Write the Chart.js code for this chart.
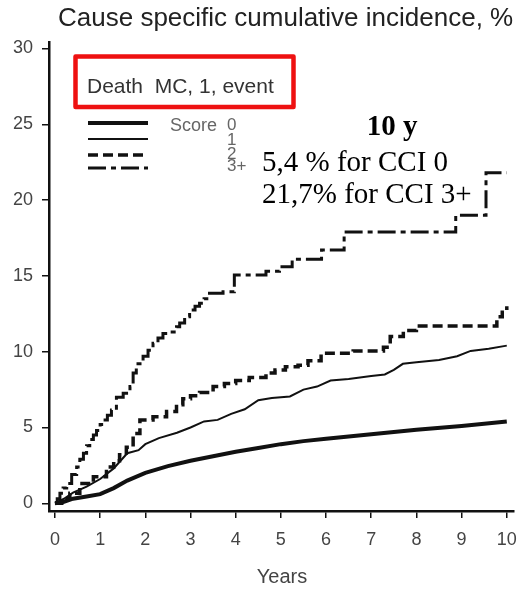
<!DOCTYPE html>
<html>
<head>
<meta charset="utf-8">
<script src="https://cdn.jsdelivr.net/npm/chart.js@4.4.1/dist/chart.umd.min.js"></script>
<style>
  html, body { margin: 0; padding: 0; background: #fff; }
  #wrap { width: 528px; height: 589px; position: relative; }
</style>
</head>
<body>
<div id="wrap"><canvas id="chart"></canvas></div>
<script>
const chartTitle = 'Cause specific cumulative incidence, %';
const boxLabel = 'Death  MC, 1, event';
const xTitle = 'Years';
const xTicks = [0, 1, 2, 3, 4, 5, 6, 7, 8, 9, 10];
const yTicks = [0, 5, 10, 15, 20, 25, 30];
const scoreLabels = ['0', '1', '2', '3+'];
const noteHead = '10 y';
const noteLines = ['5,4 % for CCI 0', '21,7% for CCI 3+'];

// score 0 (thick solid)
const score0Years = [0, 0.2, 0.4, 0.7, 1.0, 1.3, 1.6, 2.0, 2.5, 3.0, 3.5, 4.0, 4.5, 5.0, 5.5, 6.0, 7.0, 8.0, 9.0, 10.0];
const score0Pct   = [0, 0.1, 0.3, 0.45, 0.6, 1.0, 1.5, 2.0, 2.45, 2.8, 3.1, 3.4, 3.65, 3.9, 4.1, 4.25, 4.55, 4.85, 5.1, 5.4];

// score 1 (thin solid)
const score1Years = [0, 0.2, 0.4, 0.7, 1.0, 1.3, 1.6, 1.85, 2.0, 2.3, 2.7, 3.0, 3.3, 3.6, 3.9, 4.2, 4.5, 4.8, 5.2, 5.5, 5.8, 6.1, 6.5, 7.0, 7.3, 7.5, 7.7, 8.0, 8.5, 8.9, 9.2, 9.6, 10.0];
const score1Pct   = [0, 0.3, 0.7, 1.1, 1.6, 2.3, 3.3, 3.5, 3.9, 4.3, 4.65, 5.0, 5.4, 5.5, 5.9, 6.2, 6.8, 6.95, 7.05, 7.5, 7.7, 8.1, 8.2, 8.4, 8.5, 8.8, 9.2, 9.3, 9.45, 9.7, 10.05, 10.2, 10.4];

// score 2 (dashed, step)
const score2Years = [0, 0.15, 0.33, 0.55, 0.85, 1.14, 1.3, 1.43, 1.58, 1.73, 1.88, 2.17, 2.47, 2.69, 2.83, 3.0, 3.2, 3.5, 3.75, 4.0, 4.3, 4.67, 4.87, 5.1, 5.38, 5.6, 5.89, 6.6, 7.27, 7.42, 7.71, 8.0, 9.78, 9.9, 10.0];
const score2Pct   = [0, 0.3, 0.66, 1.3, 1.75, 2.4, 2.8, 3.2, 3.7, 4.6, 5.5, 5.7, 6.05, 6.5, 6.9, 7.1, 7.3, 7.7, 7.9, 8.1, 8.3, 8.6, 8.8, 9.0, 9.1, 9.4, 9.9, 10.05, 10.3, 11.0, 11.4, 11.7, 12.3, 12.6, 13.0];

// score 3+ (dash-dot, step)
const score3Years = [0, 0.05, 0.11, 0.18, 0.26, 0.37, 0.48, 0.55, 0.63, 0.7, 0.77, 0.85, 0.92, 1.0, 1.07, 1.16, 1.25, 1.36, 1.51, 1.66, 1.73, 1.8, 1.95, 2.06, 2.17, 2.28, 2.39, 2.54, 2.69, 2.76, 2.87, 2.98, 3.1, 3.2, 3.3, 3.42, 3.72, 3.97, 4.67, 4.97, 5.25, 5.9, 6.4, 8.87, 9.54, 10.0];
const score3Pct   = [0, 0.3, 0.66, 1.0, 1.3, 1.9, 2.4, 2.9, 3.3, 3.8, 4.2, 4.5, 4.8, 5.2, 5.5, 5.8, 6.15, 7.0, 7.25, 7.7, 8.6, 9.2, 9.7, 10.1, 10.55, 10.9, 11.2, 11.3, 11.65, 11.9, 12.3, 12.75, 13.0, 13.2, 13.5, 13.85, 13.95, 15.06, 15.3, 15.6, 16.1, 16.7, 17.9, 19.0, 21.8, 21.8];

const toPoints = (xs, ys) => xs.map((x, i) => ({ x: x, y: ys[i] }));

const sans = '"Liberation Sans", Arial, Helvetica, sans-serif';
const serif = '"Liberation Serif", "Times New Roman", serif';

const datasets = [
  { label: 'Score 0', data: toPoints(score0Years, score0Pct), borderWidth: 4, borderDash: [] },
  { label: 'Score 1', data: toPoints(score1Years, score1Pct), borderWidth: 2, borderDash: [] },
  { label: 'Score 2', data: toPoints(score2Years, score2Pct), borderWidth: 3.5, borderDash: [10, 5], stepped: 'before' },
  { label: 'Score 3+', data: toPoints(score3Years, score3Pct), borderWidth: 3, borderDash: [18, 5, 5, 5], stepped: 'before' }
].map(d => Object.assign({
  borderColor: '#111',
  backgroundColor: '#111',
  pointRadius: 0,
  fill: false,
  tension: 0
}, d));

const overlay = {
  id: 'overlay',
  afterDraw(chart) {
    const ctx = chart.ctx;
    ctx.save();
    ctx.textBaseline = 'alphabetic';

    // title
    ctx.fillStyle = '#222';
    ctx.font = '26px ' + sans;
    ctx.textAlign = 'left';
    ctx.fillText(chartTitle, 58, 26);

    // x axis title
    ctx.font = '20px ' + sans;
    ctx.fillStyle = '#444';
    ctx.textAlign = 'center';
    ctx.fillText(xTitle, 282, 583);

    // red box with label
    ctx.strokeStyle = '#ee1111';
    ctx.lineWidth = 4.5;
    ctx.lineJoin = 'round';
    ctx.strokeRect(75.5, 56.5, 218, 50.5);
    ctx.fillStyle = '#333';
    ctx.font = '21px ' + sans;
    ctx.textAlign = 'left';
    ctx.fillText(boxLabel, 87, 93);

    // legend lines
    const ly = [123, 139, 155, 168];
    chart.data.datasets.forEach((ds, i) => {
      ctx.beginPath();
      ctx.setLineDash(ds.borderDash);
      ctx.lineWidth = ds.borderWidth;
      ctx.strokeStyle = ds.borderColor;
      ctx.lineCap = 'butt';
      ctx.moveTo(88, ly[i]);
      ctx.lineTo(148, ly[i]);
      ctx.stroke();
    });
    ctx.setLineDash([]);
    ctx.fillStyle = '#666';
    ctx.font = '18px ' + sans;
    ctx.fillText('Score', 170, 131);
    const nb = [130, 145, 159, 171];
    ctx.font = '17px ' + sans;
    scoreLabels.forEach((s, i) => ctx.fillText(s, 227, nb[i]));

    // 10-year note
    ctx.fillStyle = '#000';
    ctx.font = 'bold 29px ' + serif;
    ctx.textAlign = 'center';
    ctx.fillText(noteHead, 392, 135);
    ctx.font = '29px ' + serif;
    ctx.textAlign = 'left';
    ctx.fillText(noteLines[0], 262, 171);
    ctx.fillText(noteLines[1], 262, 203);
    ctx.restore();
  }
};

new Chart(document.getElementById('chart'), {
  type: 'line',
  data: { datasets: datasets },
  options: {
    responsive: true,
    maintainAspectRatio: false,
    animation: false,
    devicePixelRatio: 1,
    layout: { padding: { top: 42, right: 13, left: 0, bottom: 0 } },
    plugins: { legend: { display: false }, title: { display: false }, tooltip: { enabled: false } },
    scales: {
      x: {
        type: 'linear',
        min: -0.132,
        max: 10.155,
        afterBuildTicks: s => { s.ticks = xTicks.map(v => ({ value: v })); },
        afterFit: s => { s.height = 78; },
        grid: { drawOnChartArea: false, drawTicks: true, tickLength: 7, tickColor: '#111', lineWidth: 1.5 },
        border: { display: true, color: '#111', width: 2.5 },
        ticks: { color: '#444', padding: 11, maxRotation: 0, autoSkip: false, font: { family: sans, size: 18 } }
      },
      y: {
        type: 'linear',
        min: -0.51,
        max: 30.43,
        afterBuildTicks: s => { s.ticks = yTicks.map(v => ({ value: v })); },
        afterFit: s => { s.width = 49; },
        grid: { drawOnChartArea: false, drawTicks: true, tickLength: 7, tickColor: '#111', lineWidth: 1.5 },
        border: { display: true, color: '#111', width: 2.5 },
        ticks: { color: '#444', padding: 9, autoSkip: false, font: { family: sans, size: 18 } }
      }
    }
  },
  plugins: [overlay]
});
</script>
</body>
</html>
